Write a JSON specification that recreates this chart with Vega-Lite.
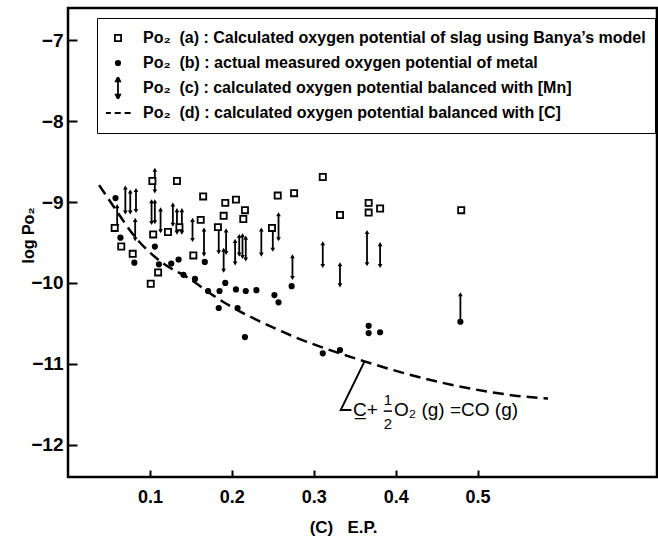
{
  "$schema": "https://vega.github.io/schema/vega-lite/v6.json",
  "width": 589,
  "height": 469,
  "autosize": "none",
  "padding": {"left": 68, "top": 8, "right": 1, "bottom": 63},
  "background": "white",
  "config": {
    "view": {"stroke": "black", "strokeWidth": 2.5},
    "font": "Liberation Sans"
  },
  "datasets": {
    "pts": [
      {"x": 0.057, "y": -9.32, "s": "a"}, {"x": 0.065, "y": -9.55, "s": "a"}, {"x": 0.079, "y": -9.64, "s": "a"},
      {"x": 0.101, "y": -10.01, "s": "a"}, {"x": 0.103, "y": -8.74, "s": "a"}, {"x": 0.104, "y": -9.40, "s": "a"},
      {"x": 0.110, "y": -9.87, "s": "a"}, {"x": 0.122, "y": -9.37, "s": "a"}, {"x": 0.133, "y": -8.74, "s": "a"},
      {"x": 0.136, "y": -9.31, "s": "a"}, {"x": 0.153, "y": -9.66, "s": "a"}, {"x": 0.162, "y": -9.22, "s": "a"},
      {"x": 0.165, "y": -8.93, "s": "a"}, {"x": 0.183, "y": -9.31, "s": "a"}, {"x": 0.190, "y": -9.17, "s": "a"},
      {"x": 0.192, "y": -9.01, "s": "a"}, {"x": 0.205, "y": -8.97, "s": "a"}, {"x": 0.214, "y": -9.21, "s": "a"},
      {"x": 0.216, "y": -9.10, "s": "a"}, {"x": 0.249, "y": -9.32, "s": "a"}, {"x": 0.256, "y": -8.92, "s": "a"},
      {"x": 0.276, "y": -8.89, "s": "a"}, {"x": 0.311, "y": -8.69, "s": "a"}, {"x": 0.332, "y": -9.16, "s": "a"},
      {"x": 0.367, "y": -9.01, "s": "a"}, {"x": 0.367, "y": -9.13, "s": "a"}, {"x": 0.381, "y": -9.08, "s": "a"},
      {"x": 0.480, "y": -9.10, "s": "a"},
      {"x": 0.058, "y": -8.95, "s": "b"}, {"x": 0.064, "y": -9.44, "s": "b"}, {"x": 0.081, "y": -9.75, "s": "b"},
      {"x": 0.106, "y": -9.55, "s": "b"}, {"x": 0.111, "y": -9.77, "s": "b"}, {"x": 0.126, "y": -9.76, "s": "b"},
      {"x": 0.135, "y": -9.71, "s": "b"}, {"x": 0.141, "y": -9.90, "s": "b"}, {"x": 0.155, "y": -9.95, "s": "b"},
      {"x": 0.167, "y": -9.74, "s": "b"}, {"x": 0.171, "y": -10.10, "s": "b"}, {"x": 0.185, "y": -10.10, "s": "b"},
      {"x": 0.184, "y": -10.31, "s": "b"}, {"x": 0.192, "y": -10.00, "s": "b"}, {"x": 0.205, "y": -10.08, "s": "b"},
      {"x": 0.217, "y": -10.10, "s": "b"}, {"x": 0.230, "y": -10.09, "s": "b"}, {"x": 0.252, "y": -10.15, "s": "b"},
      {"x": 0.257, "y": -10.24, "s": "b"}, {"x": 0.273, "y": -10.04, "s": "b"}, {"x": 0.207, "y": -10.31, "s": "b"},
      {"x": 0.216, "y": -10.67, "s": "b"}, {"x": 0.311, "y": -10.87, "s": "b"}, {"x": 0.332, "y": -10.83, "s": "b"},
      {"x": 0.367, "y": -10.53, "s": "b"}, {"x": 0.367, "y": -10.62, "s": "b"}, {"x": 0.381, "y": -10.61, "s": "b"},
      {"x": 0.479, "y": -10.48, "s": "b"}
    ],
    "arrows": [
      {"x": 0.060, "top": -9.05, "bot": -9.30}, {"x": 0.070, "top": -8.82, "bot": -9.13},
      {"x": 0.076, "top": -8.87, "bot": -9.13}, {"x": 0.083, "top": -8.85, "bot": -9.11},
      {"x": 0.082, "top": -9.22, "bot": -9.46}, {"x": 0.106, "top": -8.60, "bot": -8.87},
      {"x": 0.102, "top": -8.99, "bot": -9.26}, {"x": 0.106, "top": -8.99, "bot": -9.25},
      {"x": 0.113, "top": -9.09, "bot": -9.36}, {"x": 0.128, "top": -9.03, "bot": -9.28},
      {"x": 0.133, "top": -9.10, "bot": -9.38}, {"x": 0.139, "top": -9.10, "bot": -9.38},
      {"x": 0.152, "top": -9.22, "bot": -9.47}, {"x": 0.166, "top": -9.34, "bot": -9.65},
      {"x": 0.184, "top": -9.30, "bot": -9.62}, {"x": 0.190, "top": -9.59, "bot": -9.85},
      {"x": 0.193, "top": -9.35, "bot": -9.63}, {"x": 0.204, "top": -9.48, "bot": -9.76},
      {"x": 0.209, "top": -9.42, "bot": -9.65}, {"x": 0.213, "top": -9.41, "bot": -9.68},
      {"x": 0.217, "top": -9.44, "bot": -9.71}, {"x": 0.236, "top": -9.34, "bot": -9.65},
      {"x": 0.250, "top": -9.34, "bot": -9.59}, {"x": 0.257, "top": -9.15, "bot": -9.46},
      {"x": 0.274, "top": -9.67, "bot": -9.94}, {"x": 0.311, "top": -9.51, "bot": -9.79},
      {"x": 0.332, "top": -9.77, "bot": -10.03}, {"x": 0.365, "top": -9.37, "bot": -9.77},
      {"x": 0.381, "top": -9.52, "bot": -9.79}, {"x": 0.479, "top": -10.14, "bot": -10.48}
    ],
    "curve": [
      {"x": 0.038, "y": -8.79}, {"x": 0.058, "y": -9.09}, {"x": 0.081, "y": -9.42},
      {"x": 0.115, "y": -9.75}, {"x": 0.147, "y": -9.94}, {"x": 0.184, "y": -10.20},
      {"x": 0.261, "y": -10.60}, {"x": 0.362, "y": -10.97}, {"x": 0.455, "y": -11.23},
      {"x": 0.552, "y": -11.40}, {"x": 0.586, "y": -11.43}
    ],
    "leader": [
      {"x": 0.362, "y": -10.97, "o": 1}, {"x": 0.333, "y": -11.57, "o": 2}, {"x": 0.346, "y": -11.57, "o": 3}
    ],
    "note": [
      {"x": 0.348, "y": -11.57, "t": "C̲+"},
      {"x": 0.398, "y": -11.57, "t": "O₂ (g) =CO (g)"}
    ],
    "frac": [
      {"x": 0.3905, "y": -11.45, "t": "1"},
      {"x": 0.3905, "y": -11.74, "t": "2"}
    ],
    "fracbar": [
      {"x": 0.3855, "x2": 0.3955, "y": -11.585}
    ]
  },
  "layer": [
    {
      "data": {"name": "curve"},
      "mark": {"type": "line", "color": "black", "strokeWidth": 2.5, "strokeDash": [11, 6], "interpolate": "monotone"},
      "encoding": {
        "x": {"field": "x", "type": "quantitative", "scale": {"domain": [0, 0.719], "nice": false, "zero": false},
          "axis": {"values": [0.1, 0.2, 0.3, 0.4, 0.5], "format": ".1f", "domain": false, "grid": false,
            "tickSize": -7, "tickWidth": 2, "tickColor": "black", "labelPadding": 18,
            "labelFontSize": 18, "labelFontWeight": "bold", "labelColor": "black",
            "title": "(C)\u00a0\u00a0\u00a0E.P.", "titleFontSize": 17, "titleFontWeight": "bold", "titleColor": "black",
            "titleX": 275, "titleY": 50, "titleBaseline": "middle"}},
        "y": {"field": "y", "type": "quantitative", "scale": {"domain": [-12.4, -6.6], "nice": false, "zero": false},
          "axis": {"values": [-12, -11, -10, -9, -8, -7], "format": "d", "domain": false, "grid": false,
            "tickSize": -9, "tickWidth": 2, "tickColor": "black", "labelPadding": 14,
            "labelFontSize": 19, "labelFontWeight": "bold", "labelColor": "black",
            "title": "log Po₂", "titleFontSize": 16, "titleFontWeight": "bold", "titleColor": "black",
            "titleX": -40, "titleY": 227, "titleAngle": -90, "titleAlign": "center", "titleBaseline": "middle"}}
      }
    },
    {
      "data": {"name": "arrows"},
      "mark": {"type": "rule", "color": "black", "strokeWidth": 1.8},
      "encoding": {
        "x": {"field": "x", "type": "quantitative"},
        "y": {"field": "top", "type": "quantitative"},
        "y2": {"field": "bot"}
      }
    },
    {
      "data": {"name": "arrows"},
      "mark": {"type": "point", "shape": "triangle-up", "filled": true, "color": "black", "size": 22, "opacity": 1},
      "encoding": {
        "x": {"field": "x", "type": "quantitative"},
        "y": {"field": "top", "type": "quantitative"}
      }
    },
    {
      "data": {"name": "arrows"},
      "mark": {"type": "point", "shape": "triangle-down", "filled": true, "color": "black", "size": 22, "opacity": 1},
      "encoding": {
        "x": {"field": "x", "type": "quantitative"},
        "y": {"field": "bot", "type": "quantitative"}
      }
    },
    {
      "data": {"name": "pts"},
      "mark": {"type": "point", "strokeWidth": 1.8, "size": 484, "opacity": 1},
      "encoding": {
        "x": {"field": "x", "type": "quantitative"},
        "y": {"field": "y", "type": "quantitative"},
        "shape": {"field": "s", "type": "nominal",
          "scale": {"domain": ["a", "b", "c", "d"],
            "range": [
              "M-0.28,-0.28H0.28V0.28H-0.28Z",
              "M-0.2,0A0.2,0.2,0,1,1,0.2,0A0.2,0.2,0,1,1,-0.2,0Z",
              "M0,-1L0.2,-0.6L-0.2,-0.6Z M0,-0.6V0.6 M0,1L0.2,0.6L-0.2,0.6Z",
              "M-1.2,0H-0.65M-0.3,0H0.25M0.6,0H1.15"
            ]},
          "legend": {
            "orient": "none", "legendX": 29, "legendY": 10, "title": null,
            "strokeColor": "black", "padding": 9, "symbolSize": 484, "symbolStrokeWidth": 1.8,
            "symbolOpacity": 1, "clipHeight": 22,
            "labelFont": "Liberation Sans", "labelFontSize": 16, "labelFontWeight": "bold", "labelColor": "black", "labelOffset": 13,
            "rowPadding": 3, "labelLimit": 700,
            "labelExpr": "{'a':'Po₂\u00a0\u00a0(a)\u00a0: Calculated oxygen potential of slag using Banya’s model','b':'Po₂\u00a0\u00a0(b)\u00a0: actual measured oxygen potential of metal','c':'Po₂\u00a0\u00a0(c)\u00a0: calculated oxygen potential balanced with [Mn]','d':'Po₂\u00a0\u00a0(d)\u00a0: calculated oxygen potential balanced with [C]'}[datum.label]",
            "encode": {
              "legend": {"update": {"strokeWidth": {"value": 2}}}
            }
          }},
        "fill": {"field": "s", "type": "nominal",
          "scale": {"domain": ["a", "b", "c", "d"], "range": ["white", "black", "black", "transparent"]}},
        "stroke": {"field": "s", "type": "nominal",
          "scale": {"domain": ["a", "b", "c", "d"], "range": ["black", "black", "black", "black"]}}
      }
    },
    {
      "data": {"name": "leader"},
      "mark": {"type": "line", "color": "black", "strokeWidth": 2},
      "encoding": {
        "x": {"field": "x", "type": "quantitative"},
        "y": {"field": "y", "type": "quantitative"},
        "order": {"field": "o"}
      }
    },
    {
      "data": {"name": "note"},
      "mark": {"type": "text", "align": "left", "baseline": "middle", "fontSize": 19, "color": "black"},
      "encoding": {
        "x": {"field": "x", "type": "quantitative"},
        "y": {"field": "y", "type": "quantitative"},
        "text": {"field": "t"}
      }
    },
    {
      "data": {"name": "frac"},
      "mark": {"type": "text", "align": "center", "baseline": "middle", "fontSize": 15, "color": "black"},
      "encoding": {
        "x": {"field": "x", "type": "quantitative"},
        "y": {"field": "y", "type": "quantitative"},
        "text": {"field": "t"}
      }
    },
    {
      "data": {"name": "fracbar"},
      "mark": {"type": "rule", "color": "black", "strokeWidth": 1.5},
      "encoding": {
        "x": {"field": "x", "type": "quantitative"},
        "x2": {"field": "x2"},
        "y": {"field": "y", "type": "quantitative"}
      }
    }
  ]
}
